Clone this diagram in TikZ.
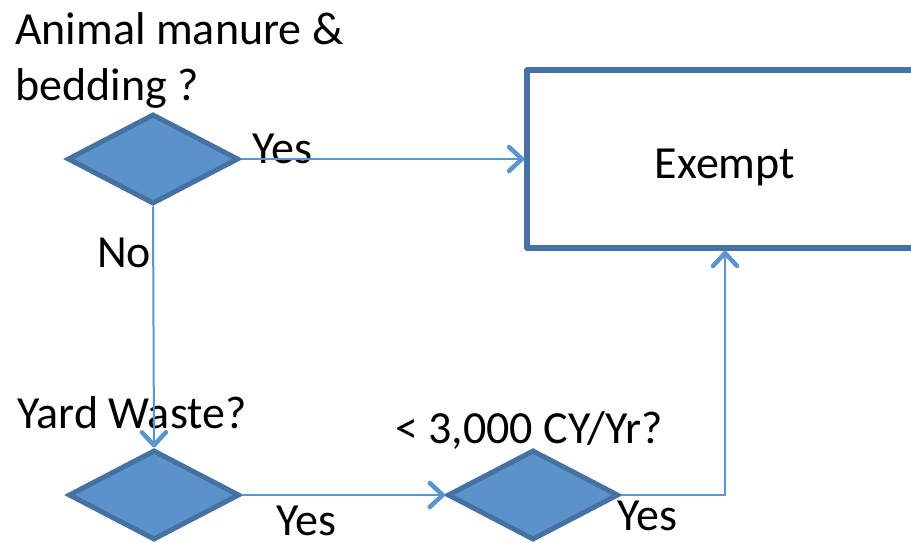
\documentclass[tikz,border=0pt]{standalone}
\usepackage{fontspec}
\setmainfont{Carlito}
\usetikzlibrary{shapes.geometric,arrows.meta}
\definecolor{dfill}{HTML}{5B92C9}
\definecolor{dline}{HTML}{4672A3}
\definecolor{conn}{HTML}{5B95D0}
\begin{document}
\begin{tikzpicture}[x=1pt,y=-1pt,
  font=\fontsize{46}{55}\selectfont,
  decision/.style={diamond,draw=dline,fill=dfill,line width=5pt,inner sep=0pt,minimum width=171pt,minimum height=90pt},
  outcome/.style={rectangle,draw=dline,line width=5.5pt,line join=round,minimum width=396pt,minimum height=178pt,inner sep=0pt,text height=38pt,text depth=0pt},
  lbl/.style={anchor=base west,inner sep=0pt,align=left},
  conn/.style={draw=conn,line width=2pt,-{Straight Barb[length=13pt,width=24pt,line width=4.5pt,round]}}]
  \useasboundingbox (0,0) rectangle (911,543);
  \clip (0,0) rectangle (911,543);
  \node[decision] (manure) at (153,159) {};
  \node[decision] (yard) at (154,495) {};
  \node[decision] (volume) at (533,495) {};
  \node[outcome] (exempt) at (725,159) {Exempt};
  \node[lbl] (manureq) at (15,100) {Animal manure \&\\bedding ?};
  \node[lbl] (yardq) at (17,428) {Yard Waste?};
  \node[lbl] (volumeq) at (395,443) {< 3,000 CY/Yr?};
  \node[lbl] (yes1) at (252,163) {Yes};
  \node[lbl] (no1) at (97,267) {No};
  \node[lbl] (yes2) at (276,535) {Yes};
  \node[lbl] (yes3) at (617,530) {Yes};
  \draw[conn] (manure.east) -- (exempt.west);
  \draw[conn] (manure.south) -- (yard.north);
  \draw[conn] (yard.east) -- (volume.west);
  \draw[conn] (volume.east) -| (exempt.south);
\end{tikzpicture}
\end{document}
